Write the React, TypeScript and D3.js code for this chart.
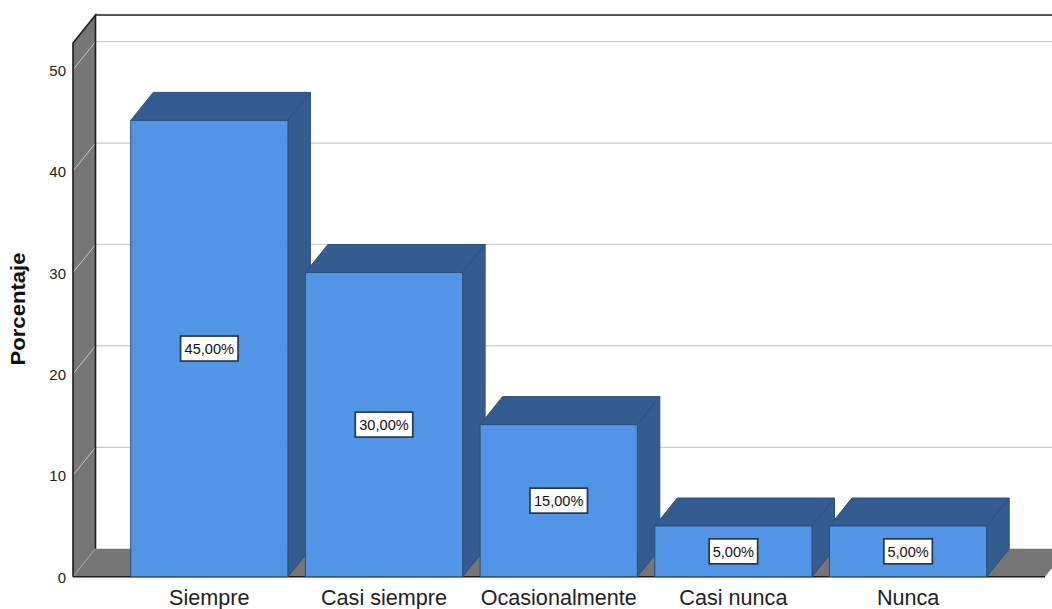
import React from "react";
import * as d3 from "d3";

const categories = ["Siempre", "Casi siempre", "Ocasionalmente", "Casi nunca", "Nunca"];
const percentages = [45, 30, 15, 5, 5];
const percentLabels = ["45,00%", "30,00%", "15,00%", "5,00%", "5,00%"];
const yTicks = [0, 10, 20, 30, 40, 50];

const WIDTH = 1052;
const HEIGHT = 609;
const DEPTH_X = 22.5;
const DEPTH_Y = 28;
const WALL_LEFT = 73;
const WALL_TOP = 43;
const FLOOR_RIGHT = 1045;

const FRONT = "#5294e6";
const SHADE = "#345c8f";
const WALL = "#757575";
const EDGE = "#1c1c1c";
const GRID = "#c9c9c9";
const FONT = "'Liberation Sans', Arial, sans-serif";

const y = d3.scaleLinear().domain([0, 50]).range([576.7, 69.7]);
const x = d3
  .scaleBand<string>()
  .domain(categories)
  .range([130.7, 986.7])
  .paddingInner(0.1)
  .paddingOuter(0);

const poly = (pts: [number, number][]) => pts.map((p) => p.join(",")).join(" ");

export default function App() {
  const floor = y(0);
  return (
    <svg
      width={WIDTH}
      height={HEIGHT}
      viewBox={`0 0 ${WIDTH} ${HEIGHT}`}
      style={{ position: "absolute", left: 0, top: 0, background: "#fff" }}
    >
      {/* Side wall and floor of the 3D frame */}
      <polygon
        points={poly([
          [WALL_LEFT, WALL_TOP],
          [WALL_LEFT + DEPTH_X, WALL_TOP - DEPTH_Y],
          [WALL_LEFT + DEPTH_X, floor - DEPTH_Y],
          [WALL_LEFT, floor],
        ])}
        fill={WALL}
      />
      <polygon
        points={poly([
          [WALL_LEFT, floor],
          [WALL_LEFT + DEPTH_X, floor - DEPTH_Y],
          [FLOOR_RIGHT + DEPTH_X, floor - DEPTH_Y],
          [FLOOR_RIGHT, floor],
        ])}
        fill={WALL}
      />

      {/* Gridlines across the back wall and down the side wall */}
      {yTicks.map((t) => (
        <g key={t} stroke={GRID} strokeWidth={1.2} fill="none">
          {t > 0 && (
            <line
              x1={WALL_LEFT + DEPTH_X}
              x2={WIDTH}
              y1={y(t) - DEPTH_Y}
              y2={y(t) - DEPTH_Y}
            />
          )}
          <line
            x1={WALL_LEFT}
            x2={WALL_LEFT + DEPTH_X}
            y1={y(t)}
            y2={y(t) - DEPTH_Y}
            stroke={t === 0 ? "#a8a8a8" : GRID}
            strokeWidth={1}
          />
        </g>
      ))}

      {/* Frame edges */}
      <g stroke={EDGE} strokeWidth={1.6} fill="none">
        <polyline
          points={poly([
            [WALL_LEFT, floor],
            [WALL_LEFT, WALL_TOP],
            [WALL_LEFT + DEPTH_X, WALL_TOP - DEPTH_Y],
            [WALL_LEFT + DEPTH_X, floor - DEPTH_Y],
          ])}
        />
        <line
          x1={WALL_LEFT + DEPTH_X}
          x2={WIDTH}
          y1={WALL_TOP - DEPTH_Y}
          y2={WALL_TOP - DEPTH_Y}
        />
        <line x1={WALL_LEFT} x2={FLOOR_RIGHT} y1={floor} y2={floor} />
      </g>

      {/* Extruded bars */}
      {categories.map((c, i) => {
        const x0 = x(c)!;
        const x1 = x0 + x.bandwidth();
        const top = y(percentages[i]);
        return (
          <g key={c} stroke="#2b4f7d" strokeWidth={1} strokeLinejoin="round">
            <polygon
              points={poly([
                [x0, top],
                [x0 + DEPTH_X, top - DEPTH_Y],
                [x1 + DEPTH_X, top - DEPTH_Y],
                [x1, top],
              ])}
              fill={SHADE}
            />
            <polygon
              points={poly([
                [x1, top],
                [x1 + DEPTH_X, top - DEPTH_Y],
                [x1 + DEPTH_X, floor - DEPTH_Y],
                [x1, floor],
              ])}
              fill={SHADE}
            />
            <rect x={x0} y={top} width={x.bandwidth()} height={floor - top} fill={FRONT} />
          </g>
        );
      })}

      {/* Value labels centred on each bar face */}
      {categories.map((c, i) => {
        const cx = x(c)! + x.bandwidth() / 2;
        const cy = y(percentages[i] / 2);
        const w = percentLabels[i].length === 6 ? 57.5 : 48.5;
        return (
          <g key={c}>
            <rect
              x={cx - w / 2}
              y={cy - 12.5}
              width={w}
              height={25}
              fill="#fff"
              stroke="#26384f"
              strokeWidth={1.7}
            />
            <text
              x={cx}
              y={cy + 5.5}
              textAnchor="middle"
              fontFamily={FONT}
              fontSize={14.6}
              fill="#111"
            >
              {percentLabels[i]}
            </text>
          </g>
        );
      })}

      {/* Y axis */}
      {yTicks.map((t) => (
        <text
          key={t}
          x={66}
          y={y(t) + 6}
          textAnchor="end"
          fontFamily={FONT}
          fontSize={15}
          fill="#222"
        >
          {t}
        </text>
      ))}
      <text
        transform="translate(25,309) rotate(-90)"
        textAnchor="middle"
        fontFamily={FONT}
        fontSize={20}
        fontWeight="bold"
        fill="#111"
        textLength={113}
        lengthAdjust="spacingAndGlyphs"
      >
        Porcentaje
      </text>

      {/* X axis */}
      {categories.map((c) => (
        <text
          key={c}
          x={x(c)! + x.bandwidth() / 2}
          y={605}
          textAnchor="middle"
          fontFamily={FONT}
          fontSize={21.6}
          fill="#222"
        >
          {c}
        </text>
      ))}
    </svg>
  );
}
